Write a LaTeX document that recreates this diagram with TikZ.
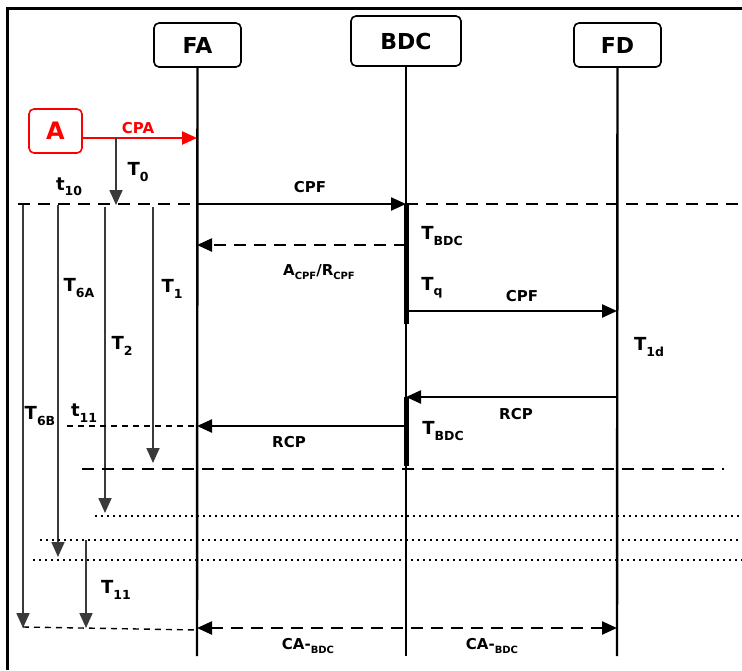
\documentclass[tikz,border=0pt]{standalone}
\usepackage{fontspec}
\setmainfont{DejaVu Sans}[BoldFont={DejaVu Sans Bold}]
\usetikzlibrary{arrows.meta}
\definecolor{tgray}{HTML}{3A3A3A}
\newcommand{\sbs}[1]{\raisebox{-0.3em}{\fontsize{12.5}{12.5}\selectfont\bfseries #1}}
\newcommand{\ssbs}[1]{\raisebox{-0.25em}{\fontsize{10}{10}\selectfont\bfseries #1}}
\begin{document}
\begin{tikzpicture}[x=1pt,y=-1pt,
  box/.style={draw, line width=1.6pt, rounded corners=5pt, inner sep=0pt,
    font=\fontsize{22}{22}\selectfont\bfseries},
  lifeline/.style={line width=2.4pt},
  msg/.style={line width=2.4pt, -{Triangle[length=15pt,width=13pt]}},
  dmsg/.style={msg, dash pattern=on 12pt off 8pt},
  timer/.style={tgray, line width=1.8pt, -{Triangle[length=15pt,width=13pt]}},
  lbl/.style={font=\fontsize{15}{15}\selectfont\bfseries, inner sep=0pt},
  tlbl/.style={font=\fontsize{18}{18}\selectfont\bfseries, inner sep=0pt},
  bigdash/.style={line width=2.4pt, dash pattern=on 12pt off 8pt},
  thindash/.style={line width=1.4pt, dash pattern=on 6pt off 5pt},
  dotline/.style={line width=1.8pt, dash pattern=on 1.8pt off 4.2pt},
  actbar/.style={line width=5pt},
  frame/.style={line width=3pt}
]
\useasboundingbox (0,0) rectangle (742,670);
% frame
\coordinate (frTL) at (7,8);
\coordinate (frTR) at (742,8);
\coordinate (frBL) at (7,670);
\draw[frame] (frBL) -- (frTL) -- (frTR);

% participant boxes
\node[box, minimum width=87pt, minimum height=44pt] (FA) at (197.5,45) {FA};
\node[box, minimum width=110pt, minimum height=50pt] (BDC) at (406,41) {BDC};
\node[box, minimum width=87pt, minimum height=44pt] (FD) at (617.5,45) {FD};

% lifeline coordinates
\coordinate (FAend) at (197,656);
\coordinate (BDCend) at (406,656);
\coordinate (FDend) at (617,656);
\draw[lifeline] (FA.south) -- (FAend);
\draw[lifeline] (BDC.south) -- (BDCend);
\draw[lifeline] (FD.south) -- (FDend);

% A box and CPA
\node[draw=red, text=red, line width=1.6pt, rounded corners=5pt,
  minimum width=53pt, minimum height=44pt, inner sep=0pt,
  font=\fontsize{24}{24}\selectfont\bfseries] (A) at (55.5,131) {A};
\coordinate (faCPA) at (197,138);
\draw[red, line width=2.4pt, -{Triangle[length=15pt,width=13pt]}] (A.east |- faCPA) -- (faCPA);
\node[lbl, text=red] (lCPA) at (138,128) {CPA};

% T0
\coordinate (t0s) at (116,138);
\coordinate (t0e) at (116,205);
\draw[timer] (t0s) -- (t0e);
\node[tlbl] (lT0) at (138,172) {T\sbs{0}};
\node[tlbl] (lt10) at (69,187) {t\sbs{10}};

% dashed line y=204
\coordinate (d1s) at (18,204);
\coordinate (fa204) at (197,204);
\coordinate (bdc204) at (406,204);
\coordinate (d1e) at (742,204);
\draw[bigdash] (d1s) -- (fa204);
\draw[bigdash] (bdc204) -- (d1e);
\draw[msg] (fa204) -- (bdc204);
\node[lbl] (lCPF1) at (310,187) {CPF};

% timer lines
\coordinate (t6bs) at (23,205); \coordinate (t6be) at (23,628);
\coordinate (t6as) at (58,205); \coordinate (t6ae) at (58,557);
\coordinate (t2s) at (105,207); \coordinate (t2e) at (105,513);
\coordinate (t1s) at (153,207); \coordinate (t1e) at (153,463);
\coordinate (t11s) at (86,540); \coordinate (t11e) at (86,628);
\draw[timer] (t6bs) -- (t6be);
\draw[timer] (t6as) -- (t6ae);
\draw[timer] (t2s) -- (t2e);
\draw[timer] (t1s) -- (t1e);
\draw[timer] (t11s) -- (t11e);
\node[tlbl] (lT6A) at (79,288) {T\sbs{6A}};
\node[tlbl] (lT1) at (172,289) {T\sbs{1}};
\node[tlbl] (lT2) at (122,346) {T\sbs{2}};
\node[tlbl] (lT6B) at (40,416) {T\sbs{6B}};
\node[tlbl] (lt11) at (84,413) {t\sbs{11}};
\node[tlbl] (lT11) at (116,590) {T\sbs{11}};

% activation bars
\coordinate (bar1s) at (406,204); \coordinate (bar1e) at (406,324);
\coordinate (bar2s) at (406,397); \coordinate (bar2e) at (406,466);
\draw[actbar] (bar1s) -- (bar1e);
\draw[actbar] (bar2s) -- (bar2e);
\node[tlbl] (lTbdc1) at (442,236) {T\sbs{BDC}};
\node[tlbl] (lTq) at (432,288) {T\sbs{q}};
\node[tlbl] (lTbdc2) at (443,431) {T\sbs{BDC}};

% A/R CPF
\coordinate (bdc245) at (406,245);
\coordinate (fa245) at (197,245);
\draw[dmsg] (bdc245) -- (fa245);
\node[lbl] (lAR) at (319,272) {A\ssbs{CPF}/R\ssbs{CPF}};

% CPF to FD
\coordinate (bdc311) at (406,311);
\coordinate (fd311) at (617,311);
\draw[msg] (bdc311) -- (fd311);
\node[lbl] (lCPF2) at (522,296) {CPF};
\node[tlbl] (lT1d) at (649,347) {T\sbs{1d}};

% RCP from FD
\coordinate (fd397) at (617,397);
\coordinate (bdc397) at (406,397);
\draw[msg] (fd397) -- (bdc397);
\node[lbl] (lRCP1) at (516,414) {RCP};

% RCP to FA
\coordinate (bdc426) at (406,426);
\coordinate (fa426) at (197,426);
\draw[msg] (bdc426) -- (fa426);
\node[lbl] (lRCP2) at (289,442) {RCP};
\coordinate (t11l) at (67,426);
\draw[thindash] (t11l) -- (fa426);

% long dashed y=469
\coordinate (d2s) at (82,469); \coordinate (d2e) at (724,469);
\draw[bigdash] (d2s) -- (d2e);

% dotted lines
\coordinate (o1s) at (95,516); \coordinate (o1e) at (742,516);
\coordinate (o2s) at (40,540); \coordinate (o2e) at (742,540);
\coordinate (o3s) at (33,560); \coordinate (o3e) at (742,560);
\draw[dotline] (o1s) -- (o1e);
\draw[dotline] (o2s) -- (o2e);
\draw[dotline] (o3s) -- (o3e);

% bottom
\coordinate (b1) at (23,627);
\coordinate (fa628) at (197,628);
\coordinate (fd628) at (617,628);
\draw[thindash] (b1) -- (197,630);
\draw[line width=2.4pt, dash pattern=on 12pt off 8pt,
  {Triangle[length=15pt,width=13pt]}-{Triangle[length=15pt,width=13pt]}] (fa628) -- (fd628);
\node[lbl] (lCA1) at (308,646) {CA-\ssbs{BDC}};
\node[lbl] (lCA2) at (492,646) {CA-\ssbs{BDC}};
\end{tikzpicture}
\end{document}
